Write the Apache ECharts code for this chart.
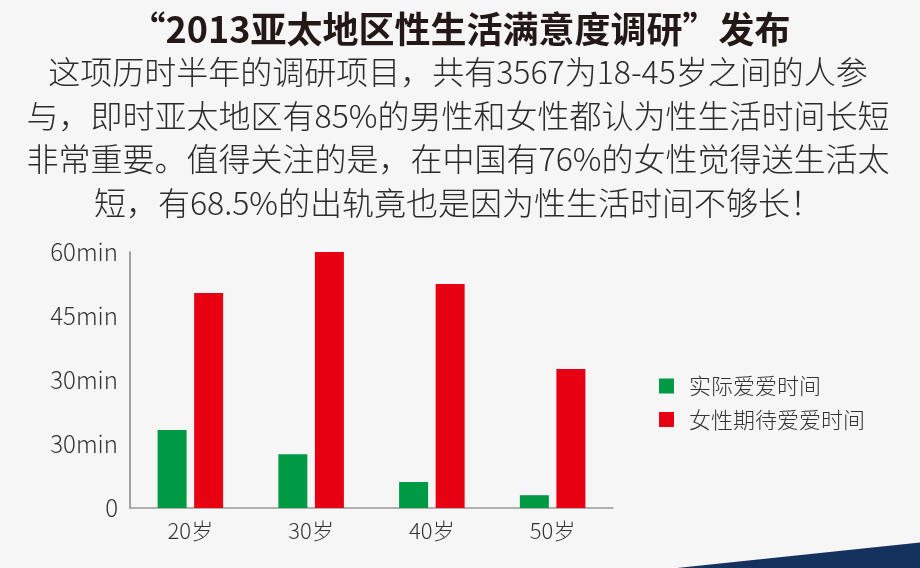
<!DOCTYPE html>
<html lang="zh-CN">
<head>
  <meta charset="UTF-8">
  <title>2013亚太地区性生活满意度调研</title>
  <script src="https://cdn.jsdelivr.net/npm/echarts@6/dist/echarts.min.js"></script>
  <style>
    html, body { margin: 0; padding: 0; background: #f6f6f6; }
    #main { width: 920px; height: 568px; }
  </style>
</head>
<body>
<div id="main"></div>
<script>
  // 数据
  const ageGroups = ['20岁', '30岁', '40岁', '50岁'];
  const actualTime = [18.3, 12.6, 6.1, 3];       // 实际爱爱时间 (min)
  const expectedTime = [50.4, 60, 52.5, 32.6];   // 女性期待爱爱时间 (min)
  const yTickLabels = ['0', '30min', '30min', '45min', '60min']; // 原图刻度文字
  const seriesNames = ['实际爱爱时间', '女性期待爱爱时间'];

  const titleText = '“2013亚太地区性生活满意度调研”发布';
  const introLines = [
    '这项历时半年的调研项目，共有3567为18-45岁之间的人参',
    '与，即时亚太地区有85%的男性和女性都认为性生活时间长短',
    '非常重要。值得关注的是，在中国有76%的女性觉得送生活太',
    '短，有68.5%的出轨竟也是因为性生活时间不够长！'
  ];

  const FONT = '"Noto Sans CJK SC", "Noto Sans", sans-serif';
  const chart = echarts.init(document.getElementById('main'));

  const lineTexts = introLines.map((line, i) => ({
    type: 'text',
    x: 458,
    y: 72 + i * 43.5,
    style: {
      text: line,
      fill: '#2b2b2b',
      font: '300 32px ' + FONT,
      align: 'center',
      verticalAlign: 'middle'
    }
  }));

  chart.setOption({
    backgroundColor: '#f6f6f6',
    title: {
      text: titleText,
      left: 'center',
      top: 6,
      textStyle: { fontFamily: FONT, fontSize: 36, fontWeight: 'bold', color: '#231815' }
    },
    graphic: [
      ...lineTexts,
      {
        type: 'polygon',
        shape: { points: [[677, 568], [920, 542.5], [920, 568]] },
        style: { fill: '#15325e' },
        silent: true
      }
    ],
    legend: {
      data: seriesNames,
      orient: 'vertical',
      left: 659,
      top: 375,
      padding: 0,
      itemWidth: 15,
      itemHeight: 15,
      itemGap: 11.5,
      icon: 'rect',
      textStyle: { fontFamily: FONT, fontSize: 22, fontWeight: 300, color: '#333', padding: [0, 0, 0, 10] }
    },
    grid: { left: 130, right: 307, top: 252, bottom: 60 },
    xAxis: {
      type: 'category',
      data: ageGroups,
      axisLine: { lineStyle: { color: '#999', width: 1.5 } },
      axisTick: { show: false },
      axisLabel: { fontFamily: FONT, fontSize: 22, fontWeight: 300, color: '#333', margin: 12 }
    },
    yAxis: {
      type: 'value',
      min: 0,
      max: 60,
      interval: 15,
      axisLine: { show: true, lineStyle: { color: '#888', width: 1.5 } },
      axisTick: { show: false },
      splitLine: { show: false },
      axisLabel: {
        fontFamily: FONT,
        fontSize: 24,
        fontWeight: 300,
        color: '#333',
        margin: 12,
        formatter: v => yTickLabels[Math.round(v / 15)]
      }
    },
    series: [
      {
        name: seriesNames[0],
        type: 'bar',
        data: actualTime,
        barWidth: 29,
        barGap: '26%',
        itemStyle: { color: '#009a44' }
      },
      {
        name: seriesNames[1],
        type: 'bar',
        data: expectedTime,
        barWidth: 29,
        itemStyle: { color: '#e60012' }
      }
    ]
  });
</script>
</body>
</html>
